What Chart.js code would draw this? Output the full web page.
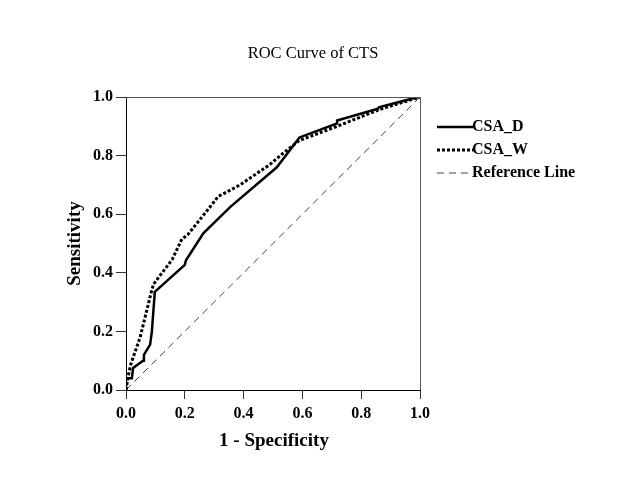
<!DOCTYPE html>
<html>
<head>
<meta charset="utf-8">
<script src="https://cdn.jsdelivr.net/npm/chart.js@4"></script>
<style>
  html, body { margin: 0; padding: 0; background: #ffffff; }
  canvas { display: block; }
</style>
</head>
<body>
<canvas id="roc" width="624" height="501"></canvas>
<script>
// ROC curve values (1 - specificity, sensitivity)
const csaDX = [0, 0, 0.02, 0.024, 0.058, 0.061, 0.082, 0.088, 0.098, 0.2, 0.204, 0.263, 0.354, 0.513, 0.59, 0.718, 0.718, 0.857, 0.86, 0.993, 1]
const csaDY = [0, 0.04, 0.04, 0.075, 0.1, 0.12, 0.155, 0.2, 0.335, 0.427, 0.443, 0.535, 0.624, 0.76, 0.862, 0.91, 0.92, 0.96, 0.965, 1, 1]

const csaWX = [0, 0.01, 0.017, 0.048, 0.085, 0.093, 0.115, 0.157, 0.19, 0.21, 0.29, 0.313, 0.388, 0.49, 0.534, 0.59, 0.718, 0.864, 1]
const csaWY = [0, 0.06, 0.09, 0.18, 0.33, 0.36, 0.39, 0.445, 0.515, 0.53, 0.63, 0.66, 0.7, 0.77, 0.808, 0.852, 0.9, 0.958, 1]

const refX = [0, 1]
const refY = [0, 1]

const seriesLabels = ['CSA_D', 'CSA_W', 'Reference Line']
const tickValues = [0, 0.2, 0.4, 0.6, 0.8, 1.0]

const SERIF = '"Liberation Serif", "Times New Roman", serif'
const W = 624
const H = 501

const toPoints = (xs, ys) => xs.map((x, i) => ({ x, y: ys[i] }))

// title, axis titles, box and legend drawn by hand so they sit where the reference has them
const decorations = {
  id: 'decorations',
  afterDraw(chart) {
    const ctx = chart.ctx
    const area = chart.chartArea
    ctx.save()

    // top and right frame
    ctx.strokeStyle = '#555555'
    ctx.lineWidth = 1
    ctx.beginPath()
    ctx.moveTo(area.left, area.top + 0.5)
    ctx.lineTo(area.right + 0.5, area.top + 0.5)
    ctx.lineTo(area.right + 0.5, area.bottom)
    ctx.stroke()

    ctx.fillStyle = '#000000'
    ctx.textAlign = 'center'
    ctx.textBaseline = 'middle'
    ctx.font = `16.5px ${SERIF}`
    ctx.fillText('ROC Curve of CTS', 313, 54)

    ctx.font = `bold 19px ${SERIF}`
    ctx.fillText('1 - Specificity', (area.left + area.right) / 2 + 1, 441)

    ctx.save()
    ctx.translate(75, (area.top + area.bottom) / 2)
    ctx.rotate(-Math.PI / 2)
    ctx.fillText('Sensitivity', 0, 0)
    ctx.restore()

    // legend
    const ds = chart.data.datasets
    ctx.font = `bold 16px ${SERIF}`
    ctx.textAlign = 'left'
    ds.forEach((d, i) => {
      const y = 127 + i * 23
      ctx.strokeStyle = d.borderColor
      ctx.lineWidth = d.borderWidth
      ctx.setLineDash(d.borderDash || [])
      ctx.beginPath()
      ctx.moveTo(437, y)
      ctx.lineTo(473, y)
      ctx.stroke()
      ctx.setLineDash([])
      ctx.fillStyle = '#000000'
      ctx.fillText(d.label, 472, y)
    })
    ctx.restore()
  },
}

const axisStyle = {
  type: 'linear',
  min: 0,
  max: 1,
  afterBuildTicks: (scale) => { scale.ticks = tickValues.map((v) => ({ value: v })) },
  ticks: {
    callback: (v) => Number(v).toFixed(1),
    color: '#000000',
    font: { family: SERIF, size: 16, weight: 'bold' },
  },
  grid: {
    drawOnChartArea: false,
    drawTicks: true,
    tickLength: 10,
    tickColor: '#333333',
    tickWidth: 1,
  },
  border: { display: true, color: '#000000', width: 1 },
}

new Chart(document.getElementById('roc'), {
  type: 'scatter',
  data: {
    datasets: [
      {
        label: seriesLabels[0],
        data: toPoints(csaDX, csaDY),
        showLine: true,
        borderColor: '#000000',
        borderWidth: 2.5,
        pointRadius: 0,
        tension: 0,
      },
      {
        label: seriesLabels[1],
        data: toPoints(csaWX, csaWY),
        showLine: true,
        borderColor: '#000000',
        borderWidth: 3,
        borderDash: [3, 2],
        pointRadius: 0,
        tension: 0,
      },
      {
        label: seriesLabels[2],
        data: toPoints(refX, refY),
        showLine: true,
        borderColor: '#444444',
        borderWidth: 1,
        borderDash: [7, 5],
        pointRadius: 0,
        tension: 0,
      },
    ],
  },
  options: {
    responsive: false,
    animation: false,
    layout: { padding: { top: 97, right: 204, left: 0, bottom: 0 } },
    scales: {
      x: {
        ...axisStyle,
        position: 'bottom',
        ticks: { ...axisStyle.ticks, padding: 5, maxRotation: 0 },
        grid: { ...axisStyle.grid, tickLength: 9 },
        afterFit: (scale) => { scale.height = H - 390 },
      },
      y: {
        ...axisStyle,
        position: 'left',
        ticks: { ...axisStyle.ticks, padding: 3 },
        afterFit: (scale) => { scale.width = 126 },
      },
    },
    plugins: {
      legend: { display: false },
      tooltip: { enabled: false },
      title: { display: false },
    },
  },
  plugins: [decorations],
})
</script>
</body>
</html>
